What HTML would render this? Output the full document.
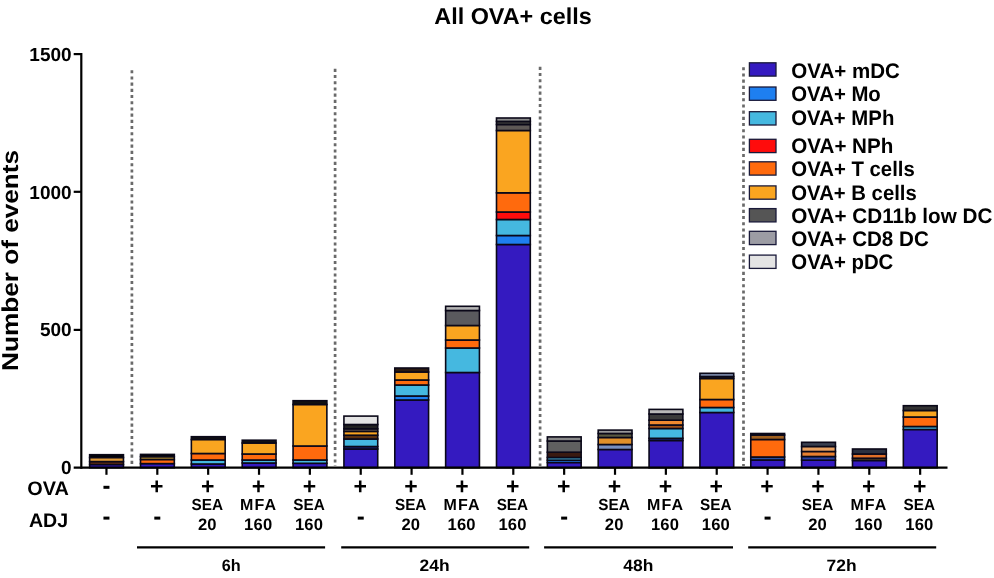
<!DOCTYPE html><html><head><meta charset="utf-8"><title>All OVA+ cells</title>
<style>html,body{margin:0;padding:0;background:#fff;overflow:hidden;width:994px;height:578px;}svg{display:block;filter:blur(0.55px);text-rendering:geometricPrecision;}text{font-family:"Liberation Sans",sans-serif;font-weight:bold;fill:#000;}</style></head><body>
<svg width="994" height="578" viewBox="0 0 994 578">
<rect width="994" height="578" fill="#fff"/>
<text x="434.3" y="23.6" font-size="23" textLength="157.5" lengthAdjust="spacingAndGlyphs">All OVA+ cells</text>
<text transform="translate(18.3,260.4) rotate(-90)" text-anchor="middle" font-size="23" textLength="221" lengthAdjust="spacingAndGlyphs">Number of events</text>
<text x="71.6" y="60.7" font-size="19" text-anchor="end">1500</text>
<text x="71.6" y="198.7" font-size="19" text-anchor="end">1000</text>
<text x="71.6" y="336.0" font-size="19" text-anchor="end">500</text>
<text x="71.6" y="474.1" font-size="19" text-anchor="end">0</text>
<line x1="131.9" y1="70.2" x2="131.9" y2="466" stroke="#6a6a6a" stroke-width="2.7" stroke-dasharray="3.1 3.1"/>
<line x1="335.1" y1="68.8" x2="335.1" y2="466" stroke="#6a6a6a" stroke-width="2.7" stroke-dasharray="3.1 3.1"/>
<line x1="540.1" y1="66.8" x2="540.1" y2="466" stroke="#6a6a6a" stroke-width="2.7" stroke-dasharray="3.1 3.1"/>
<line x1="743.5" y1="67.2" x2="743.5" y2="466" stroke="#6a6a6a" stroke-width="2.7" stroke-dasharray="3.1 3.1"/>
<rect x="89.65" y="464.50" width="33.8" height="3.20" fill="#341ac0" stroke="#0a0818" stroke-width="1.6"/>
<rect x="89.65" y="461.60" width="33.8" height="2.90" fill="#6a3010" stroke="#0a0818" stroke-width="1.6"/>
<rect x="89.65" y="457.50" width="33.8" height="4.10" fill="#e09a38" stroke="#0a0818" stroke-width="1.6"/>
<rect x="89.65" y="454.70" width="33.8" height="2.80" fill="#000" stroke="#0a0818" stroke-width="1.6"/>
<rect x="140.51" y="463.60" width="33.8" height="4.10" fill="#341ac0" stroke="#0a0818" stroke-width="1.6"/>
<rect x="140.51" y="459.50" width="33.8" height="4.10" fill="#ff6a0d" stroke="#0a0818" stroke-width="1.6"/>
<rect x="140.51" y="456.60" width="33.8" height="2.90" fill="#b08a30" stroke="#0a0818" stroke-width="1.6"/>
<rect x="140.51" y="454.40" width="33.8" height="2.20" fill="#000" stroke="#0a0818" stroke-width="1.6"/>
<rect x="191.36" y="464.00" width="33.8" height="3.70" fill="#341ac0" stroke="#0a0818" stroke-width="1.6"/>
<rect x="191.36" y="460.00" width="33.8" height="4.00" fill="#45b8e0" stroke="#0a0818" stroke-width="1.6"/>
<rect x="191.36" y="453.50" width="33.8" height="6.50" fill="#ff6a0d" stroke="#0a0818" stroke-width="1.6"/>
<rect x="191.36" y="439.50" width="33.8" height="14.00" fill="#faa520" stroke="#0a0818" stroke-width="1.6"/>
<rect x="191.36" y="436.70" width="33.8" height="2.80" fill="#111" stroke="#0a0818" stroke-width="1.6"/>
<rect x="242.22" y="463.00" width="33.8" height="4.70" fill="#341ac0" stroke="#0a0818" stroke-width="1.6"/>
<rect x="242.22" y="460.00" width="33.8" height="3.00" fill="#45b8e0" stroke="#0a0818" stroke-width="1.6"/>
<rect x="242.22" y="454.00" width="33.8" height="6.00" fill="#ff6a0d" stroke="#0a0818" stroke-width="1.6"/>
<rect x="242.22" y="443.00" width="33.8" height="11.00" fill="#faa520" stroke="#0a0818" stroke-width="1.6"/>
<rect x="242.22" y="440.20" width="33.8" height="2.80" fill="#111" stroke="#0a0818" stroke-width="1.6"/>
<rect x="293.07" y="463.30" width="33.8" height="4.40" fill="#341ac0" stroke="#0a0818" stroke-width="1.6"/>
<rect x="293.07" y="460.00" width="33.8" height="3.30" fill="#45b8e0" stroke="#0a0818" stroke-width="1.6"/>
<rect x="293.07" y="446.00" width="33.8" height="14.00" fill="#ff6a0d" stroke="#0a0818" stroke-width="1.6"/>
<rect x="293.07" y="404.50" width="33.8" height="41.50" fill="#faa520" stroke="#0a0818" stroke-width="1.6"/>
<rect x="293.07" y="400.70" width="33.8" height="3.80" fill="#111" stroke="#0a0818" stroke-width="1.6"/>
<rect x="343.93" y="449.00" width="33.8" height="18.70" fill="#341ac0" stroke="#0a0818" stroke-width="1.6"/>
<rect x="343.93" y="446.50" width="33.8" height="2.50" fill="#1a2a80" stroke="#0a0818" stroke-width="1.6"/>
<rect x="343.93" y="439.00" width="33.8" height="7.50" fill="#45b8e0" stroke="#0a0818" stroke-width="1.6"/>
<rect x="343.93" y="435.20" width="33.8" height="3.80" fill="#5a3010" stroke="#0a0818" stroke-width="1.6"/>
<rect x="343.93" y="431.40" width="33.8" height="3.80" fill="#faa520" stroke="#0a0818" stroke-width="1.6"/>
<rect x="343.93" y="428.80" width="33.8" height="2.60" fill="#6a5a50" stroke="#0a0818" stroke-width="1.6"/>
<rect x="343.93" y="424.50" width="33.8" height="4.30" fill="#222" stroke="#0a0818" stroke-width="1.6"/>
<rect x="343.93" y="416.10" width="33.8" height="8.40" fill="#e4e4e4" stroke="#0a0818" stroke-width="1.6"/>
<rect x="394.79" y="400.00" width="33.8" height="67.70" fill="#341ac0" stroke="#0a0818" stroke-width="1.6"/>
<rect x="394.79" y="396.00" width="33.8" height="4.00" fill="#1e7ff0" stroke="#0a0818" stroke-width="1.6"/>
<rect x="394.79" y="385.00" width="33.8" height="11.00" fill="#45b8e0" stroke="#0a0818" stroke-width="1.6"/>
<rect x="394.79" y="380.00" width="33.8" height="5.00" fill="#ff6a0d" stroke="#0a0818" stroke-width="1.6"/>
<rect x="394.79" y="372.00" width="33.8" height="8.00" fill="#faa520" stroke="#0a0818" stroke-width="1.6"/>
<rect x="394.79" y="368.00" width="33.8" height="4.00" fill="#2a1a10" stroke="#0a0818" stroke-width="1.6"/>
<rect x="445.64" y="372.50" width="33.8" height="95.20" fill="#341ac0" stroke="#0a0818" stroke-width="1.6"/>
<rect x="445.64" y="348.00" width="33.8" height="24.50" fill="#45b8e0" stroke="#0a0818" stroke-width="1.6"/>
<rect x="445.64" y="340.00" width="33.8" height="8.00" fill="#ff6a0d" stroke="#0a0818" stroke-width="1.6"/>
<rect x="445.64" y="325.50" width="33.8" height="14.50" fill="#faa520" stroke="#0a0818" stroke-width="1.6"/>
<rect x="445.64" y="310.50" width="33.8" height="15.00" fill="#5a5a5e" stroke="#0a0818" stroke-width="1.6"/>
<rect x="445.64" y="306.30" width="33.8" height="4.20" fill="#b4b4b4" stroke="#0a0818" stroke-width="1.6"/>
<rect x="496.50" y="244.50" width="33.8" height="223.20" fill="#341ac0" stroke="#0a0818" stroke-width="1.6"/>
<rect x="496.50" y="235.50" width="33.8" height="9.00" fill="#1e7ff0" stroke="#0a0818" stroke-width="1.6"/>
<rect x="496.50" y="219.50" width="33.8" height="16.00" fill="#45b8e0" stroke="#0a0818" stroke-width="1.6"/>
<rect x="496.50" y="212.00" width="33.8" height="7.50" fill="#ff0c0c" stroke="#0a0818" stroke-width="1.6"/>
<rect x="496.50" y="192.80" width="33.8" height="19.20" fill="#ff6a0d" stroke="#0a0818" stroke-width="1.6"/>
<rect x="496.50" y="130.50" width="33.8" height="62.30" fill="#faa520" stroke="#0a0818" stroke-width="1.6"/>
<rect x="496.50" y="124.50" width="33.8" height="6.00" fill="#5e5856" stroke="#0a0818" stroke-width="1.6"/>
<rect x="496.50" y="121.40" width="33.8" height="3.10" fill="#3a3a3a" stroke="#0a0818" stroke-width="1.6"/>
<rect x="496.50" y="118.00" width="33.8" height="3.40" fill="#8a8a8a" stroke="#0a0818" stroke-width="1.6"/>
<rect x="547.35" y="462.50" width="33.8" height="5.20" fill="#341ac0" stroke="#0a0818" stroke-width="1.6"/>
<rect x="547.35" y="460.20" width="33.8" height="2.30" fill="#1e7ff0" stroke="#0a0818" stroke-width="1.6"/>
<rect x="547.35" y="457.50" width="33.8" height="2.70" fill="#45b8e0" stroke="#0a0818" stroke-width="1.6"/>
<rect x="547.35" y="452.20" width="33.8" height="5.30" fill="#3a1a10" stroke="#0a0818" stroke-width="1.6"/>
<rect x="547.35" y="441.00" width="33.8" height="11.20" fill="#606060" stroke="#0a0818" stroke-width="1.6"/>
<rect x="547.35" y="436.90" width="33.8" height="4.10" fill="#8a8a8a" stroke="#0a0818" stroke-width="1.6"/>
<rect x="598.21" y="449.50" width="33.8" height="18.20" fill="#341ac0" stroke="#0a0818" stroke-width="1.6"/>
<rect x="598.21" y="444.50" width="33.8" height="5.00" fill="#7890c0" stroke="#0a0818" stroke-width="1.6"/>
<rect x="598.21" y="437.50" width="33.8" height="7.00" fill="#e0902a" stroke="#0a0818" stroke-width="1.6"/>
<rect x="598.21" y="433.50" width="33.8" height="4.00" fill="#5a5a40" stroke="#0a0818" stroke-width="1.6"/>
<rect x="598.21" y="430.10" width="33.8" height="3.40" fill="#999" stroke="#0a0818" stroke-width="1.6"/>
<rect x="649.07" y="440.50" width="33.8" height="27.20" fill="#341ac0" stroke="#0a0818" stroke-width="1.6"/>
<rect x="649.07" y="438.30" width="33.8" height="2.20" fill="#1a2a80" stroke="#0a0818" stroke-width="1.6"/>
<rect x="649.07" y="428.50" width="33.8" height="9.80" fill="#45b8e0" stroke="#0a0818" stroke-width="1.6"/>
<rect x="649.07" y="425.00" width="33.8" height="3.50" fill="#a05018" stroke="#0a0818" stroke-width="1.6"/>
<rect x="649.07" y="420.20" width="33.8" height="4.80" fill="#f08a30" stroke="#0a0818" stroke-width="1.6"/>
<rect x="649.07" y="414.00" width="33.8" height="6.20" fill="#3a3a3a" stroke="#0a0818" stroke-width="1.6"/>
<rect x="649.07" y="409.40" width="33.8" height="4.60" fill="#b8b8b8" stroke="#0a0818" stroke-width="1.6"/>
<rect x="699.92" y="412.50" width="33.8" height="55.20" fill="#341ac0" stroke="#0a0818" stroke-width="1.6"/>
<rect x="699.92" y="407.50" width="33.8" height="5.00" fill="#45b8e0" stroke="#0a0818" stroke-width="1.6"/>
<rect x="699.92" y="399.50" width="33.8" height="8.00" fill="#ff6a0d" stroke="#0a0818" stroke-width="1.6"/>
<rect x="699.92" y="378.50" width="33.8" height="21.00" fill="#faa520" stroke="#0a0818" stroke-width="1.6"/>
<rect x="699.92" y="376.50" width="33.8" height="2.00" fill="#222" stroke="#0a0818" stroke-width="1.6"/>
<rect x="699.92" y="373.30" width="33.8" height="3.20" fill="#8090b0" stroke="#0a0818" stroke-width="1.6"/>
<rect x="750.78" y="460.00" width="33.8" height="7.70" fill="#341ac0" stroke="#0a0818" stroke-width="1.6"/>
<rect x="750.78" y="457.00" width="33.8" height="3.00" fill="#2850a0" stroke="#0a0818" stroke-width="1.6"/>
<rect x="750.78" y="439.50" width="33.8" height="17.50" fill="#ff6a0d" stroke="#0a0818" stroke-width="1.6"/>
<rect x="750.78" y="435.00" width="33.8" height="4.50" fill="#a06020" stroke="#0a0818" stroke-width="1.6"/>
<rect x="750.78" y="433.50" width="33.8" height="1.50" fill="#222" stroke="#0a0818" stroke-width="1.6"/>
<rect x="801.63" y="460.20" width="33.8" height="7.50" fill="#341ac0" stroke="#0a0818" stroke-width="1.6"/>
<rect x="801.63" y="456.50" width="33.8" height="3.70" fill="#2840a0" stroke="#0a0818" stroke-width="1.6"/>
<rect x="801.63" y="451.50" width="33.8" height="5.00" fill="#e88030" stroke="#0a0818" stroke-width="1.6"/>
<rect x="801.63" y="446.50" width="33.8" height="5.00" fill="#e8a060" stroke="#0a0818" stroke-width="1.6"/>
<rect x="801.63" y="442.30" width="33.8" height="4.20" fill="#3a4050" stroke="#0a0818" stroke-width="1.6"/>
<rect x="852.49" y="460.50" width="33.8" height="7.20" fill="#341ac0" stroke="#0a0818" stroke-width="1.6"/>
<rect x="852.49" y="458.20" width="33.8" height="2.30" fill="#504020" stroke="#0a0818" stroke-width="1.6"/>
<rect x="852.49" y="454.00" width="33.8" height="4.20" fill="#e07028" stroke="#0a0818" stroke-width="1.6"/>
<rect x="852.49" y="449.00" width="33.8" height="5.00" fill="#2a3040" stroke="#0a0818" stroke-width="1.6"/>
<rect x="903.35" y="429.50" width="33.8" height="38.20" fill="#341ac0" stroke="#0a0818" stroke-width="1.6"/>
<rect x="903.35" y="426.50" width="33.8" height="3.00" fill="#45b8e0" stroke="#0a0818" stroke-width="1.6"/>
<rect x="903.35" y="417.00" width="33.8" height="9.50" fill="#ff6a0d" stroke="#0a0818" stroke-width="1.6"/>
<rect x="903.35" y="410.50" width="33.8" height="6.50" fill="#faa520" stroke="#0a0818" stroke-width="1.6"/>
<rect x="903.35" y="405.70" width="33.8" height="4.80" fill="#333" stroke="#0a0818" stroke-width="1.6"/>
<g stroke="#000" stroke-width="2.2" fill="none">
<line x1="81.3" y1="53.0" x2="81.3" y2="468.7"/>
<line x1="73.7" y1="54.1" x2="81.3" y2="54.1"/>
<line x1="73.7" y1="191.8" x2="81.3" y2="191.8"/>
<line x1="73.7" y1="329.9" x2="81.3" y2="329.9"/>
<line x1="73.7" y1="467.7" x2="947.5" y2="467.7"/>
<line x1="106.45" y1="467.7" x2="106.45" y2="474.8"/>
<line x1="157.31" y1="467.7" x2="157.31" y2="474.8"/>
<line x1="208.16" y1="467.7" x2="208.16" y2="474.8"/>
<line x1="259.02" y1="467.7" x2="259.02" y2="474.8"/>
<line x1="309.87" y1="467.7" x2="309.87" y2="474.8"/>
<line x1="360.73" y1="467.7" x2="360.73" y2="474.8"/>
<line x1="411.59" y1="467.7" x2="411.59" y2="474.8"/>
<line x1="462.44" y1="467.7" x2="462.44" y2="474.8"/>
<line x1="513.30" y1="467.7" x2="513.30" y2="474.8"/>
<line x1="564.15" y1="467.7" x2="564.15" y2="474.8"/>
<line x1="615.01" y1="467.7" x2="615.01" y2="474.8"/>
<line x1="665.87" y1="467.7" x2="665.87" y2="474.8"/>
<line x1="716.72" y1="467.7" x2="716.72" y2="474.8"/>
<line x1="767.58" y1="467.7" x2="767.58" y2="474.8"/>
<line x1="818.43" y1="467.7" x2="818.43" y2="474.8"/>
<line x1="869.29" y1="467.7" x2="869.29" y2="474.8"/>
<line x1="920.15" y1="467.7" x2="920.15" y2="474.8"/>
<line x1="137" y1="547.4" x2="325.1" y2="547.4"/>
<line x1="341.2" y1="547.4" x2="529.2" y2="547.4"/>
<line x1="544.1" y1="547.4" x2="733" y2="547.4"/>
<line x1="748.2" y1="547.4" x2="936.2" y2="547.4"/>
</g>
<text x="27.3" y="494.5" font-size="19.5" textLength="41.6" lengthAdjust="spacingAndGlyphs">OVA</text>
<text x="28.9" y="526.8" font-size="19.5" textLength="39.2" lengthAdjust="spacingAndGlyphs">ADJ</text>
<rect x="103.45" y="485.8" width="6" height="3.0" fill="#000"/>
<rect x="103.45" y="516.6" width="6" height="3.0" fill="#000"/>
<text x="156.81" y="494.3" font-size="23" text-anchor="middle">+</text>
<rect x="154.31" y="516.6" width="6" height="3.0" fill="#000"/>
<text x="207.66" y="494.3" font-size="23" text-anchor="middle">+</text>
<text x="207.26" y="510.3" font-size="16" text-anchor="middle" textLength="31.5" lengthAdjust="spacingAndGlyphs">SEA</text>
<text x="207.26" y="530.4" font-size="16.6" text-anchor="middle" textLength="18.5" lengthAdjust="spacing">20</text>
<text x="258.52" y="494.3" font-size="23" text-anchor="middle">+</text>
<text x="258.12" y="510.3" font-size="16" text-anchor="middle" textLength="36" lengthAdjust="spacing">MFA</text>
<text x="258.12" y="530.4" font-size="16.6" text-anchor="middle" textLength="28" lengthAdjust="spacing">160</text>
<text x="309.37" y="494.3" font-size="23" text-anchor="middle">+</text>
<text x="308.97" y="510.3" font-size="16" text-anchor="middle" textLength="31.5" lengthAdjust="spacingAndGlyphs">SEA</text>
<text x="308.97" y="530.4" font-size="16.6" text-anchor="middle" textLength="28" lengthAdjust="spacing">160</text>
<text x="360.23" y="494.3" font-size="23" text-anchor="middle">+</text>
<rect x="357.73" y="516.6" width="6" height="3.0" fill="#000"/>
<text x="411.09" y="494.3" font-size="23" text-anchor="middle">+</text>
<text x="410.69" y="510.3" font-size="16" text-anchor="middle" textLength="31.5" lengthAdjust="spacingAndGlyphs">SEA</text>
<text x="410.69" y="530.4" font-size="16.6" text-anchor="middle" textLength="18.5" lengthAdjust="spacing">20</text>
<text x="461.94" y="494.3" font-size="23" text-anchor="middle">+</text>
<text x="461.54" y="510.3" font-size="16" text-anchor="middle" textLength="36" lengthAdjust="spacing">MFA</text>
<text x="461.54" y="530.4" font-size="16.6" text-anchor="middle" textLength="28" lengthAdjust="spacing">160</text>
<text x="512.80" y="494.3" font-size="23" text-anchor="middle">+</text>
<text x="512.40" y="510.3" font-size="16" text-anchor="middle" textLength="31.5" lengthAdjust="spacingAndGlyphs">SEA</text>
<text x="512.40" y="530.4" font-size="16.6" text-anchor="middle" textLength="28" lengthAdjust="spacing">160</text>
<text x="563.65" y="494.3" font-size="23" text-anchor="middle">+</text>
<rect x="561.15" y="516.6" width="6" height="3.0" fill="#000"/>
<text x="614.51" y="494.3" font-size="23" text-anchor="middle">+</text>
<text x="614.11" y="510.3" font-size="16" text-anchor="middle" textLength="31.5" lengthAdjust="spacingAndGlyphs">SEA</text>
<text x="614.11" y="530.4" font-size="16.6" text-anchor="middle" textLength="18.5" lengthAdjust="spacing">20</text>
<text x="665.37" y="494.3" font-size="23" text-anchor="middle">+</text>
<text x="664.97" y="510.3" font-size="16" text-anchor="middle" textLength="36" lengthAdjust="spacing">MFA</text>
<text x="664.97" y="530.4" font-size="16.6" text-anchor="middle" textLength="28" lengthAdjust="spacing">160</text>
<text x="716.22" y="494.3" font-size="23" text-anchor="middle">+</text>
<text x="715.82" y="510.3" font-size="16" text-anchor="middle" textLength="31.5" lengthAdjust="spacingAndGlyphs">SEA</text>
<text x="715.82" y="530.4" font-size="16.6" text-anchor="middle" textLength="28" lengthAdjust="spacing">160</text>
<text x="767.08" y="494.3" font-size="23" text-anchor="middle">+</text>
<rect x="764.58" y="516.6" width="6" height="3.0" fill="#000"/>
<text x="817.93" y="494.3" font-size="23" text-anchor="middle">+</text>
<text x="817.53" y="510.3" font-size="16" text-anchor="middle" textLength="31.5" lengthAdjust="spacingAndGlyphs">SEA</text>
<text x="817.53" y="530.4" font-size="16.6" text-anchor="middle" textLength="18.5" lengthAdjust="spacing">20</text>
<text x="868.79" y="494.3" font-size="23" text-anchor="middle">+</text>
<text x="868.39" y="510.3" font-size="16" text-anchor="middle" textLength="36" lengthAdjust="spacing">MFA</text>
<text x="868.39" y="530.4" font-size="16.6" text-anchor="middle" textLength="28" lengthAdjust="spacing">160</text>
<text x="919.65" y="494.3" font-size="23" text-anchor="middle">+</text>
<text x="919.25" y="510.3" font-size="16" text-anchor="middle" textLength="31.5" lengthAdjust="spacingAndGlyphs">SEA</text>
<text x="919.25" y="530.4" font-size="16.6" text-anchor="middle" textLength="28" lengthAdjust="spacing">160</text>
<text x="231.2" y="570.6" font-size="16.5" text-anchor="middle" textLength="19" lengthAdjust="spacingAndGlyphs">6h</text>
<text x="434.6" y="570.6" font-size="16.5" text-anchor="middle" textLength="30" lengthAdjust="spacingAndGlyphs">24h</text>
<text x="638.3" y="570.6" font-size="16.5" text-anchor="middle" textLength="30" lengthAdjust="spacingAndGlyphs">48h</text>
<text x="841.6" y="570.6" font-size="16.5" text-anchor="middle" textLength="30" lengthAdjust="spacingAndGlyphs">72h</text>
<rect x="749.4" y="62.80" width="26.6" height="13.3" fill="#341ac0" stroke="#1a1a3a" stroke-width="1.3"/>
<text x="791.3" y="77.8" font-size="21" textLength="108.5" lengthAdjust="spacingAndGlyphs">OVA+ mDC</text>
<rect x="749.4" y="87.00" width="26.6" height="13.3" fill="#1e7ff0" stroke="#1a1a3a" stroke-width="1.3"/>
<text x="791.3" y="100.5" font-size="21" textLength="89.5" lengthAdjust="spacingAndGlyphs">OVA+ Mo</text>
<rect x="749.4" y="111.70" width="26.6" height="13.3" fill="#45b8e0" stroke="#1a1a3a" stroke-width="1.3"/>
<text x="791.3" y="124.8" font-size="21" textLength="103" lengthAdjust="spacingAndGlyphs">OVA+ MPh</text>
<rect x="749.4" y="139.30" width="26.6" height="13.3" fill="#ff0c0c" stroke="#1a1a3a" stroke-width="1.3"/>
<text x="791.3" y="153.1" font-size="21" textLength="102" lengthAdjust="spacingAndGlyphs">OVA+ NPh</text>
<rect x="749.4" y="161.80" width="26.6" height="13.3" fill="#ff6a0d" stroke="#1a1a3a" stroke-width="1.3"/>
<text x="791.3" y="176.2" font-size="21" textLength="123.5" lengthAdjust="spacingAndGlyphs">OVA+ T cells</text>
<rect x="749.4" y="185.90" width="26.6" height="13.3" fill="#faa520" stroke="#1a1a3a" stroke-width="1.3"/>
<text x="791.3" y="199.6" font-size="21" textLength="125.5" lengthAdjust="spacingAndGlyphs">OVA+ B cells</text>
<rect x="749.4" y="208.60" width="26.6" height="13.3" fill="#555555" stroke="#1a1a3a" stroke-width="1.3"/>
<text x="791.3" y="222.9" font-size="21" textLength="201" lengthAdjust="spacingAndGlyphs">OVA+ CD11b low DC</text>
<rect x="749.4" y="231.30" width="26.6" height="13.3" fill="#9c9ca4" stroke="#1a1a3a" stroke-width="1.3"/>
<text x="791.3" y="245.5" font-size="21" textLength="137.5" lengthAdjust="spacingAndGlyphs">OVA+ CD8 DC</text>
<rect x="749.4" y="255.10" width="26.6" height="13.3" fill="#e4e4e4" stroke="#1a1a3a" stroke-width="1.3"/>
<text x="791.3" y="269.2" font-size="21" textLength="102" lengthAdjust="spacingAndGlyphs">OVA+ pDC</text>
</svg></body></html>
